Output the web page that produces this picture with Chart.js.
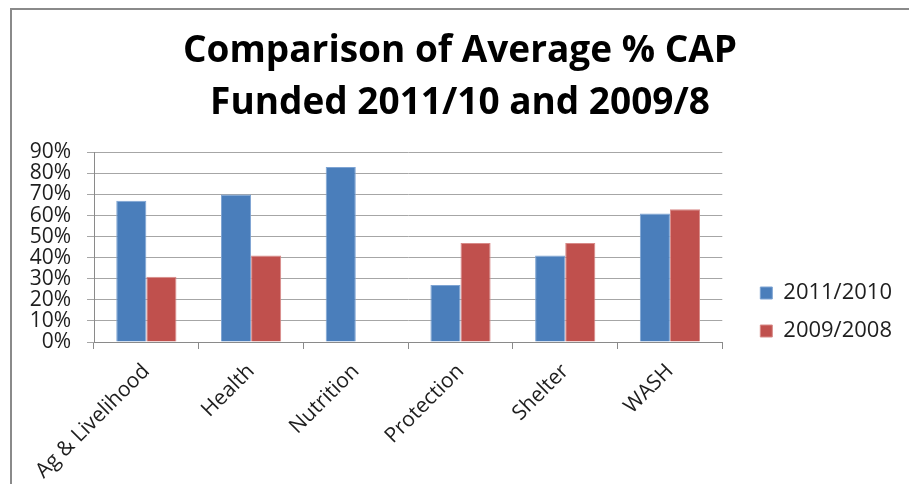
<!DOCTYPE html>
<html>
<head>
<meta charset="utf-8">
<script src="https://cdn.jsdelivr.net/npm/chart.js@4/dist/chart.umd.min.js"></script>
<style>
  html, body { margin: 0; padding: 0; background: #fff; overflow: hidden; }
  #frame {
    position: absolute; left: 10px; top: 8px; width: 920px; height: 500px;
    border-left: 2px solid #8a8a8a; border-top: 2px solid #8a8a8a;
  }
  #wrap { position: absolute; left: 0; top: 0; width: 897px; height: 474px; }
</style>
</head>
<body>
<div id="frame"><div id="wrap"><canvas id="myChart"></canvas></div></div>
<script>
// sectors and average % of CAP funded per period
var sectors = ['Ag & Livelihood', 'Health', 'Nutrition', 'Protection', 'Shelter', 'WASH'];
var funded2011 = [67, 70, 83, 27, 41, 61];
var funded2009 = [31, 41, null, 47, 47, 63];
var yTicks = [0, 10, 20, 30, 40, 50, 60, 70, 80, 90];

// nudge legend and title boxes off their default slots
var boxShift = {
  id: 'boxShift',
  afterLayout: function(chart) {
    var lg = chart.legend;
    lg.left += 22; lg.right += 22;
    lg.top += 59; lg.bottom += 59;
    var t = chart.titleBlock;
    t.left += 14; t.right += 14;
    t.top += 3; t.bottom += 3;
  }
};

var ctx = document.getElementById('myChart').getContext('2d');
var data = {
  labels: sectors,
  datasets: [
    {
      label: '2011/2010',
      data: funded2011,
      backgroundColor: '#4a7ebb',
      borderColor: '#7ea4d3',
      borderWidth: 1
    },
    {
      label: '2009/2008',
      data: funded2009,
      backgroundColor: '#c0504d',
      borderColor: '#d88a88',
      borderWidth: 1
    }
  ]
};

var myChart = new Chart(ctx, {
  type: 'bar',
  data: data,
  plugins: [boxShift],
  options: {
    responsive: true,
    maintainAspectRatio: false,
    animation: false,
    layout: { padding: { left: 0, right: 29, top: 12, bottom: 0 } },
    datasets: {
      bar: { categoryPercentage: 0.575, barPercentage: 1.0 }
    },
    scales: {
      x: {
        afterFit: function(scale) {
          scale.height = 142;
          scale.paddingLeft = 0;
          scale.paddingRight = 0;
        },
        grid: { display: true, drawOnChartArea: false, drawTicks: true, tickLength: 7, offset: true, color: '#8a8a8a' },
        border: { display: true, color: '#8a8a8a' },
        ticks: {
          autoSkip: false, minRotation: 45, maxRotation: 45, padding: 10,
          color: '#1e1e1e', font: { family: 'Open Sans', size: 21 }
        }
      },
      y: {
        min: 0, max: 90,
        afterBuildTicks: function(axis) {
          axis.ticks = yTicks.map(function(v) { return { value: v }; });
        },
        afterFit: function(scale) {
          scale.width = 82;
        },
        grid: { color: '#a6a6a6', lineWidth: 1, tickLength: 7 },
        border: { display: true, color: '#8a8a8a' },
        ticks: {
          autoSkip: false, padding: 16, color: '#1e1e1e',
          font: { family: 'Open Sans', size: 21, lineHeight: 1 },
          callback: function(v) { return v + '%'; }
        }
      }
    },
    plugins: {
      title: {
        display: true,
        text: ['Comparison of Average % CAP', 'Funded 2011/10 and 2009/8'],
        color: '#000',
        font: { family: 'Open Sans', size: 37, weight: 'bold', lineHeight: 1.41 },
        padding: { top: 0, bottom: 26 }
      },
      legend: {
        display: true,
        position: 'right',
        labels: {
          boxWidth: 12, boxHeight: 12, padding: 16,
          color: '#1e1e1e', font: { family: 'Open Sans', size: 22 }
        }
      },
      tooltip: { enabled: false }
    }
  }
});
</script>
</body>
</html>
